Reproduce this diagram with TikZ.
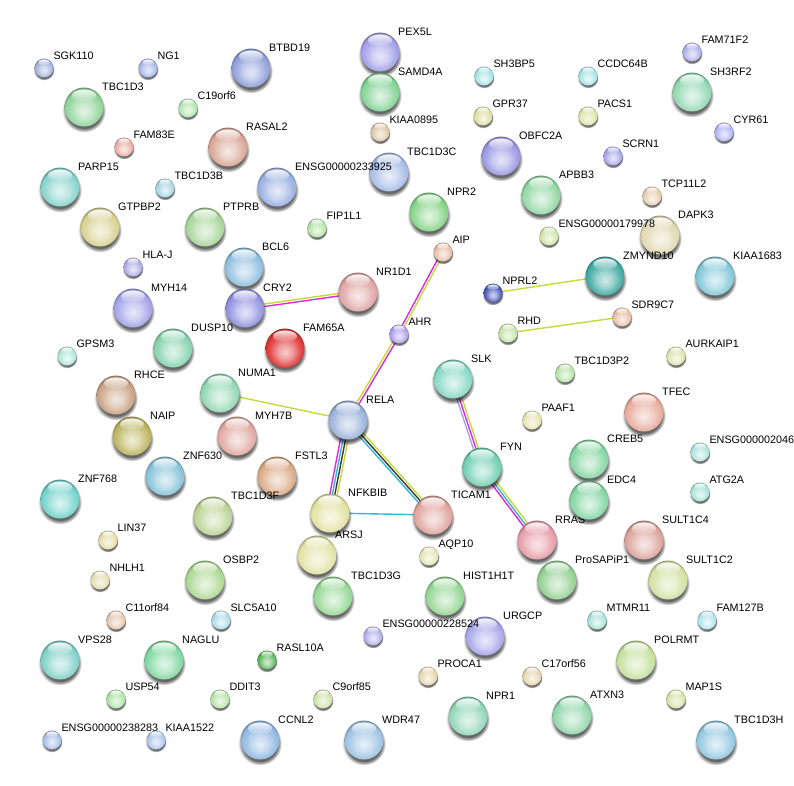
\documentclass[tikz,border=0pt]{standalone}
\usepackage{fontspec}
\setmainfont{Liberation Sans}
\usetikzlibrary{calc,fadings,backgrounds}
\definecolor{sball}{HTML}{FFFFFF}
\definecolor{tmc}{HTML}{C6DA3A}
\definecolor{expc}{HTML}{DE2ADE}
\definecolor{dbc}{HTML}{34B6D8}
\definecolor{coc}{HTML}{3A3A3A}
\definecolor{homc}{HTML}{A4A4F4}
\pgfdeclareradialshading[sball]{strball}{\pgfpoint{0bp}{-6bp}}{%
color(0bp)=(sball!25!white);
color(10bp)=(sball!50!white);
color(19bp)=(sball!85!white);
color(24bp)=(sball);
color(29bp)=(sball!62!black);
color(50bp)=(sball!55!black)}
\tikzfading[name=hlfade, top color=transparent!10, bottom color=transparent!100]
\tikzset{
 sphere/.style={circle, inner sep=0pt, shading=strball, /utils/exec={\definecolor{sball}{HTML}{#1}}},
 lbl/.style={inner sep=0pt, anchor=base west, font=\fontsize{10.8}{12}\selectfont, text=black},
 shadowc/.style={fill=black, opacity=0.6, path fading=circle with fuzzy edge 20 percent},
 hilite/.style={fill=white, path fading=hlfade},
 edg/.style={line width=1.4pt}
}
\newcommand\protnode[7]{%
 \fill[shadowc] (#2,#3+0.18*#4) circle ({1.12*#4pt});
 \node[sphere=#5, minimum size={2*#4pt}] (#1) at (#2,#3) {};
 \fill[hilite] (#2,#3-0.6*#4) ellipse ({0.62*#4pt} and {0.3*#4pt});
 \node[lbl] (#1-lab) at (#2+#6,#3-#7) {#1};
}
\newcommand\bignode[4]{\protnode{#1}{#2}{#3}{19.5}{#4}{18}{16.5}}
\newcommand\smnode[4]{\protnode{#1}{#2}{#3}{9.5}{#4}{9.3}{9}}
\newcommand\stredge[4]{\draw[edg,#4] ($(#1)!#3pt!90:(#2)$) -- ($(#2)!#3pt!-90:(#1)$);}
\begin{document}
\begin{tikzpicture}[x=1pt,y=-1pt]
\useasboundingbox (0,0) rectangle (794,785);
% big nodes
\bignode{TBC1D3}{84}{107}{8FD49A}
\bignode{RASAL2}{228}{147}{D9A595}
\bignode{PARP15}{60}{187}{86D3CC}
\bignode{GTPBP2}{100}{227}{D8D192}
\bignode{PTPRB}{205}{227}{A6D59A}
\bignode{BTBD19}{251}{68}{8E9FDA}
\bignode{BCL6}{244}{267}{8EBEDD}
\bignode{PEX5L}{380}{52}{A19FE8}
\bignode{SAMD4A}{380}{92}{82D394}
\bignode{OBFC2A}{501}{156}{9A98E2}
\bignode{TBC1D3C}{389}{172}{A6BCE8}
\bignode{ENSG00000233925}{277}{187}{9AB0E2}
\bignode{NPR2}{429}{212}{86D486}
\bignode{SH3RF2}{692}{92}{92D8B2}
\bignode{APBB3}{541}{195}{92D6A2}
\bignode{DAPK3}{660}{235}{E0D8B0}
\bignode{ZMYND10}{605}{276}{3FA9A2}
\bignode{KIAA1683}{715}{276}{82C8D8}
\bignode{MYH14}{133}{308}{A3A3EA}
\bignode{CRY2}{245}{308}{9090E0}
\bignode{DUSP10}{173}{348}{86D2AE}
\bignode{RHCE}{116}{395}{C9A283}
\bignode{NUMA1}{220}{393}{92D8B2}
\bignode{NAIP}{132}{436}{BDB45E}
\bignode{MYH7B}{237}{436}{E0A8A0}
\bignode{ZNF630}{165}{476}{86C3DA}
\bignode{FSTL3}{277}{476}{DBAA84}
\bignode{ZNF768}{60}{499}{72D2CA}
\bignode{TBC1D3F}{213}{516}{BCD394}
\bignode{NR1D1}{358}{292}{E0A4A4}
\bignode{FAM65A}{285}{348}{E03434}
\bignode{SLK}{453}{379}{86D8C4}
\bignode{RELA}{348}{420}{9AB2DA}
\bignode{FYN}{482}{467}{74CFB2}
\bignode{NFKBIB}{330}{513}{E2E2A2}
\bignode{TICAM1}{433}{515}{E0A49C}
\bignode{RRAS}{537}{540}{E69CA6}
\bignode{CREB5}{589}{459}{84D6A2}
\bignode{EDC4}{589}{500}{84D6A2}
\bignode{TFEC}{644}{412}{E8AA9A}
\bignode{SULT1C4}{644}{540}{DCA49C}
\bignode{ARSJ}{317}{555}{E2E2A4}
\bignode{TBC1D3G}{333}{596}{96D894}
\bignode{HIST1H1T}{445}{596}{94D692}
\bignode{URGCP}{485}{636}{A6A6EA}
\bignode{NPR1}{468}{716}{92D6B8}
\bignode{CCNL2}{260}{740}{90B8E2}
\bignode{WDR47}{364}{740}{9CC2E2}
\bignode{ProSAPiP1}{557}{580}{92D092}
\bignode{SULT1C2}{668}{580}{D4E0A2}
\bignode{POLRMT}{636}{660}{C4E09C}
\bignode{ATXN3}{572}{715}{92D6AA}
\bignode{TBC1D3H}{716}{740}{92C8E2}
\bignode{OSBP2}{205}{580}{ACD892}
\bignode{VPS28}{60}{660}{82D0C8}
\bignode{NAGLU}{164}{660}{82D8A2}
% small nodes
\smnode{SGK110}{44}{68}{A0B0DC}
\smnode{NG1}{148}{68}{A2B2E4}
\smnode{C19orf6}{188}{108}{AEE2AC}
\smnode{FAM83E}{124}{147}{EAAAA4}
\smnode{TBC1D3B}{165}{188}{A4D2E4}
\smnode{HLA-J}{133}{267}{AAAAE6}
\smnode{SH3BP5}{484}{76}{A4E2E2}
\smnode{GPR37}{483}{116}{DCDC9C}
\smnode{KIAA0895}{380}{132}{DCC4A4}
\smnode{FIP1L1}{317}{228}{B4E2A4}
\smnode{AIP}{443}{252}{E6BCA4}
\smnode{FAM71F2}{692}{52}{ACACEA}
\smnode{CCDC64B}{588}{76}{A4E2E2}
\smnode{PACS1}{588}{116}{DCE2A4}
\smnode{CYR61}{724}{132}{ACB2F2}
\smnode{SCRN1}{613}{156}{A4A4EA}
\smnode{TCP11L2}{652}{196}{E4CCAC}
\smnode{ENSG00000179978}{549}{236}{CCE2A4}
\smnode{GPSM3}{67}{356}{AEE4D4}
\smnode{LIN37}{108}{540}{E4DCA4}
\smnode{NPRL2}{493}{293}{4252B4}
\smnode{AHR}{399}{334}{AC9CEA}
\smnode{RHD}{508}{333}{C4E2A4}
\smnode{AQP10}{429}{556}{E4E4B4}
\smnode{PAAF1}{532}{420}{E8E2AC}
\smnode{TBC1D3P2}{565}{373}{B4E2A4}
\smnode{AURKAIP1}{676}{356}{DCE2AC}
\smnode{SDR9C7}{622}{317}{E8BCA4}
\smnode{ENSG000002046}{700}{452}{ACE2DA}
\smnode{ATG2A}{700}{492}{A4E2DA}
\smnode{ENSG00000228524}{373}{636}{ACACEA}
\smnode{RASL10A}{267}{660}{58B458}
\smnode{PROCA1}{428}{676}{E4D4AC}
\smnode{C9orf85}{323}{699}{CCE2A4}
\smnode{MTMR11}{597}{620}{A4E2D8}
\smnode{FAM127B}{707}{620}{ACE2EA}
\smnode{C17orf56}{532}{676}{E4D4AC}
\smnode{MAP1S}{676}{699}{D4E2A4}
\smnode{NHLH1}{100}{580}{E4DCAC}
\smnode{C11orf84}{116}{620}{E4C4AC}
\smnode{SLC5A10}{221}{620}{ACDAEA}
\smnode{USP54}{116}{699}{ACE2A4}
\smnode{DDIT3}{220}{699}{B4E2A4}
\smnode{ENSG00000238283}{52}{740}{A4BCE4}
\smnode{KIAA1522}{156}{740}{ACC4EA}
\begin{pgfonlayer}{background}
\fill[white] (0,0) rectangle (794,785);
\stredge{CRY2}{NR1D1}{1.25}{tmc}
\stredge{CRY2}{NR1D1}{-1.25}{expc}
\stredge{AIP}{AHR}{1.25}{tmc}
\stredge{AIP}{AHR}{-1.25}{expc}
\stredge{AHR}{RELA}{-1.25}{tmc}
\stredge{AHR}{RELA}{1.25}{expc}
\stredge{NUMA1}{RELA}{0}{tmc}
\stredge{RELA}{NFKBIB}{-3.75}{expc}
\stredge{RELA}{NFKBIB}{-1.25}{dbc}
\stredge{RELA}{NFKBIB}{1.25}{coc}
\stredge{RELA}{NFKBIB}{3.75}{tmc}
\stredge{RELA}{TICAM1}{-2.5}{dbc}
\stredge{RELA}{TICAM1}{0}{coc}
\stredge{RELA}{TICAM1}{2.5}{tmc}
\stredge{NFKBIB}{TICAM1}{0}{dbc}
\stredge{SLK}{FYN}{-2.5}{homc}
\stredge{SLK}{FYN}{0}{expc}
\stredge{SLK}{FYN}{2.5}{tmc}
\stredge{FYN}{RRAS}{-2.5}{expc}
\stredge{FYN}{RRAS}{0}{dbc}
\stredge{FYN}{RRAS}{2.5}{tmc}
\stredge{NPRL2}{ZMYND10}{0}{tmc}
\stredge{RHD}{SDR9C7}{0}{tmc}
\end{pgfonlayer}
\end{tikzpicture}
\end{document}
